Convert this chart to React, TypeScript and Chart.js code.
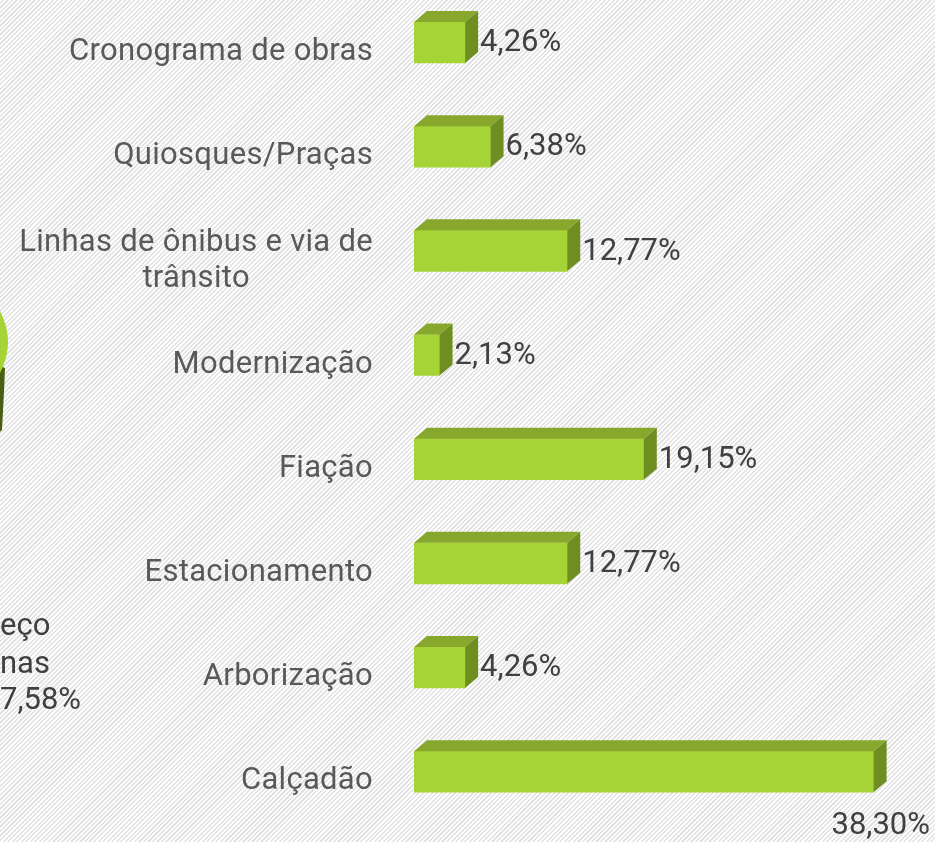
import React, { useEffect, useRef } from "react";
import { Chart, registerables } from "chart.js";

Chart.register(...registerables);

const categories: (string | string[])[] = [
  "Cronograma de obras",
  "Quiosques/Praças",
  ["Linhas de ônibus e via de", "trânsito"],
  "Modernização",
  "Fiação",
  "Estacionamento",
  "Arborização",
  "Calçadão",
];
const values = [4.26, 6.38, 12.77, 2.13, 19.15, 12.77, 4.26, 38.3];
const fragmentTexts = ["eço", "nas", "7,58%"];

const FONT = 'Roboto, "DejaVu Sans", sans-serif';
const FRONT = "#a6d336";
const TOP = "#87a82c";
const SIDE = "#6f8e22";
const DX = 13;
const DY = 11;
const Y_MIN = -0.408;
const Y_MAX = 7.675;

const fmt = (v: number) => v.toFixed(2).replace(".", ",") + "%";

const bar3d = {
  id: "bar3d",
  beforeDatasetsDraw(chart: any) {
    const ctx = chart.ctx;
    // decorative fragment of a neighbouring (cropped) pie chart
    ctx.save();
    ctx.fillStyle = "#4b5f14";
    ctx.beginPath();
    ctx.moveTo(0, 366);
    ctx.lineTo(5, 368);
    ctx.lineTo(4, 392);
    ctx.lineTo(2, 430);
    ctx.lineTo(0, 432);
    ctx.closePath();
    ctx.fill();
    ctx.fillStyle = "#a6d336";
    ctx.beginPath();
    ctx.ellipse(-194, 342, 202, 110, 0, 0, Math.PI * 2);
    ctx.closePath();
    ctx.fill();
    ctx.font = `31px ${FONT}`;
    ctx.fillStyle = "#404040";
    ctx.textAlign = "left";
    ctx.textBaseline = "alphabetic";
    const bl = [635, 673, 709];
    fragmentTexts.forEach((t, i) => ctx.fillText(t, 0, bl[i]));
    ctx.restore();
  },
  afterDatasetsDraw(chart: any) {
    const ctx = chart.ctx;
    const meta = chart.getDatasetMeta(0);
    ctx.save();
    meta.data.forEach((el: any, i: number) => {
      const p = el.getProps(["x", "y", "base", "height"], true);
      const x0 = p.base;
      const x1 = p.x;
      const top = p.y - p.height / 2;
      const bottom = p.y + p.height / 2;
      ctx.fillStyle = TOP;
      ctx.beginPath();
      ctx.moveTo(x0, top);
      ctx.lineTo(x0 + DX, top - DY);
      ctx.lineTo(x1 + DX, top - DY);
      ctx.lineTo(x1, top);
      ctx.closePath();
      ctx.fill();
      ctx.fillStyle = SIDE;
      ctx.beginPath();
      ctx.moveTo(x1, top);
      ctx.lineTo(x1 + DX, top - DY);
      ctx.lineTo(x1 + DX, bottom - DY);
      ctx.lineTo(x1, bottom);
      ctx.closePath();
      ctx.fill();
      ctx.font = `31px ${FONT}`;
      ctx.fillStyle = "#404040";
      ctx.textBaseline = "middle";
      const label = fmt(values[i]);
      const w = ctx.measureText(label).width;
      const lx = x1 + DX + 2;
      if (lx + w > chart.width - 2) {
        ctx.textAlign = "right";
        ctx.fillText(label, chart.width - 5, p.y + 55);
      } else {
        ctx.textAlign = "left";
        ctx.fillText(label, lx, p.y + 1);
      }
    });
    const yScale = chart.scales.y;
    ctx.font = `31px ${FONT}`;
    (ctx as any).letterSpacing = "0.3px";
    ctx.fillStyle = "#595959";
    ctx.textBaseline = "middle";
    ctx.textAlign = "center";
    categories.forEach((c, i) => {
      const lines = Array.isArray(c) ? c : [c];
      const cy = yScale.getPixelForValue(i) + 10;
      const maxW = Math.max(...lines.map((l) => ctx.measureText(l).width));
      const cx = 373 - maxW / 2;
      const lh = 36;
      lines.forEach((l, j) => {
        ctx.fillText(l, cx, cy + (j - (lines.length - 1) / 2) * lh);
      });
    });
    (ctx as any).letterSpacing = "0px";
    ctx.restore();
  },
};

export default function App() {
  const ref = useRef<HTMLCanvasElement | null>(null);
  useEffect(() => {
    if (!ref.current) return;
    const chart = new Chart(ref.current, {
      type: "bar",
      data: {
        datasets: [
          {
            data: values.map((v, i) => ({ x: v, y: i })),
            backgroundColor: FRONT,
            borderWidth: 0,
            barThickness: 41,
          },
        ],
      },
      options: {
        indexAxis: "y",
        responsive: false,
        animation: false,
        layout: { padding: { left: 414, right: 41, top: 0, bottom: 0 } },
        scales: {
          x: { type: "linear", min: 0, max: 40, display: false, bounds: "data", offset: false },
          y: {
            type: "linear",
            min: Y_MIN,
            max: Y_MAX,
            reverse: true,
            display: false,
            bounds: "data",
            offset: false,
            grace: 0,
            afterDataLimits: (s: any) => {
              s.min = Y_MIN;
              s.max = Y_MAX;
            },
          },
        },
        plugins: { legend: { display: false }, tooltip: { enabled: false } },
      } as any,
      plugins: [bar3d],
    });
    return () => chart.destroy();
  }, []);
  return (
    <div
      style={{
        position: "absolute",
        left: 0,
        top: 0,
        width: 935,
        height: 842,
        background:
          "repeating-linear-gradient(135deg, #ffffff 0px, #ffffff 1.6px, #e3e3e3 1.6px, #e3e3e3 3.2px)",
      }}
    >
      <canvas ref={ref} width={935} height={842} style={{ display: "block" }} />
    </div>
  );
}
